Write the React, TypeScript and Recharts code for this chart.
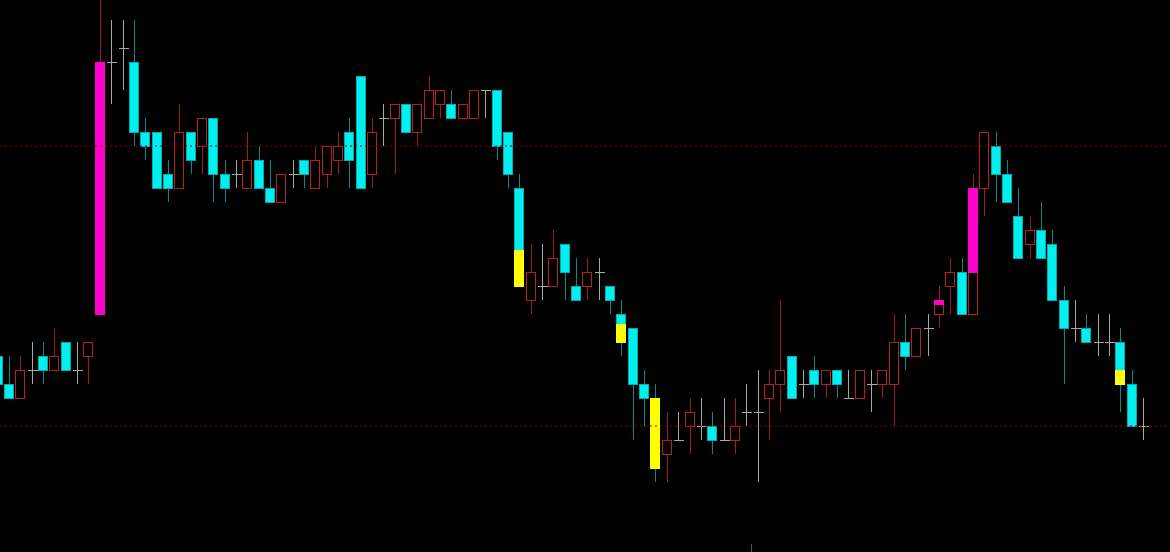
import { Bar, ComposedChart, ReferenceLine, XAxis, YAxis } from 'recharts'

// bar numbers, first one is cut off at the left edge
const bars = Array.from({ length: 102 }, (_, i) => i - 1)

const opens = [
  15, 13, 12, 14, 15, 14, 16, 14, 15, 18, 36, 37, 36, 31, 31, 28, 27, 31, 30, 32,
  28, 28, 27, 29, 27, 26, 28, 29, 27, 28, 29, 31, 35, 28, 32, 32, 33, 31, 32, 33,
  33, 32, 32, 34, 34, 31, 27, 19, 20, 20, 23, 20, 20, 21, 20, 18, 17, 13, 12, 8,
  9, 10, 10, 10, 9, 9, 11, 11, 12, 13, 15, 13, 14, 13, 14, 12, 12, 13, 13, 13,
  16, 15, 17, 18, 20, 21, 18, 27, 30, 28, 25, 23, 24, 23, 19, 17, 17, 16, 16, 16,
  13, 10,
]
const highs = [
  15, 15, 15, 16, 16, 17, 16, 16, 16, 40.4, 39, 39, 39, 32, 31, 29, 33, 31, 32, 32,
  29, 29, 31, 30, 29, 28, 29, 29, 30, 30, 31, 32, 35, 32, 33, 33, 33, 33, 35, 34,
  34, 33, 34, 34, 34, 31, 28, 23, 23, 24, 23, 22, 22, 22, 20, 19, 17, 14, 13, 11,
  11, 12, 12, 11, 12, 12, 13, 14, 14, 19, 15, 14, 15, 14, 14, 14, 14, 14, 14, 18,
  18, 17, 18, 20, 22, 22, 28, 31, 31, 29, 27, 25, 26, 24, 20, 19, 18, 18, 18, 17,
  14, 12,
]
const lows = [
  13, 12, 12, 13, 13, 14, 14, 13, 13, 18, 33, 34, 30, 29, 27, 26, 27, 28, 28, 26,
  26, 27, 27, 27, 26, 26, 27, 27, 27, 27, 28, 27, 27, 27, 30, 28, 31, 30, 32, 32,
  32, 32, 32, 32, 29, 27, 20, 18, 19, 20, 19, 19, 19, 19, 18, 15, 9, 10, 6, 6,
  9, 8, 9, 8, 9, 8, 10, 6, 9, 11, 12, 12, 12, 12, 12, 12, 12, 11, 12, 10,
  14, 15, 15, 17, 18, 18, 18, 25, 26, 26, 22, 22, 22, 19, 13, 16, 16, 15, 15, 11,
  10, 9,
]
const closes = [
  13, 12, 14, 14, 14, 15, 14, 14, 16, 36, 36, 37, 31, 30, 27, 27, 31, 29, 32, 28,
  27, 28, 29, 27, 26, 28, 28, 28, 29, 30, 30, 29, 27, 31, 32, 33, 31, 33, 34, 34,
  32, 33, 34, 34, 30, 28, 20, 21, 20, 22, 21, 19, 21, 21, 19, 16, 13, 12, 7, 9,
  9, 11, 10, 9, 9, 10, 11, 11, 13, 14, 12, 13, 13, 14, 13, 12, 14, 13, 14, 16,
  15, 17, 17, 19, 21, 18, 27, 31, 28, 26, 22, 24, 22, 19, 17, 17, 16, 16, 16, 13,
  10, 10,
]

// coloured fills drawn over part of some bodies
const markBars = [8, 45, 54, 57, 82, 85, 98]
const markFrom = [18, 20, 16, 7, 18.7, 21, 13]
const markTo = [36, 22.6, 17.3, 12, 19, 27, 14]
const markColors = ['#ff00cc', '#ffff00', '#ffff00', '#ffff00', '#ff00cc', '#ff00cc', '#ffff00']

const levels = [30, 10]
const sepBar = 65.5
const sepRange = [1, 1.57]

const data = bars.map((bar, i) => {
  const m = markBars.indexOf(bar)
  return {
    bar,
    open: opens[i],
    high: highs[i],
    low: lows[i],
    close: closes[i],
    range: [lows[i], highs[i]],
    markFrom: m >= 0 ? markFrom[m] : null,
    markTo: m >= 0 ? markTo[m] : null,
    markColor: m >= 0 ? markColors[m] : null,
  }
})

function Candle(props: any) {
  const { x, width, y, height, payload } = props
  if (x == null || y == null) return null
  const cx = Math.round(x + width / 2) + 0.5
  const top = Math.min(y, y + height)
  const span = payload.high - payload.low
  const k = span > 0 ? Math.abs(height) / span : 0
  const py = (v: number) => top + (payload.high - v) * k
  const { open, close } = payload

  if (open === close) {
    const yy = Math.round(py(open)) + 0.5
    return (
      <g shapeRendering="crispEdges">
        <line x1={cx} x2={cx} y1={py(payload.high)} y2={py(payload.low)} stroke="#a8a8a8" />
        <line x1={cx - 5} x2={cx + 5} y1={yy} y2={yy} stroke="#a8a8a8" />
      </g>
    )
  }

  const up = close > open
  const bTop = Math.round(py(Math.max(open, close))) + 0.5
  const bBot = Math.round(py(Math.min(open, close))) + 0.5
  const left = cx - 5
  return (
    <g shapeRendering="crispEdges">
      <line x1={cx} x2={cx} y1={py(payload.high)} y2={py(payload.low)} stroke={up ? '#9e1c1c' : '#008b8b'} />
      <rect
        x={left}
        y={bTop}
        width={9}
        height={bBot - bTop}
        fill={up ? '#000000' : '#00f0f0'}
        stroke={up ? '#b82020' : '#00b0b0'}
      />
      {payload.markColor && (
        <rect
          x={left}
          y={Math.round(py(payload.markTo)) + 0.5}
          width={9}
          height={Math.round(py(payload.markFrom)) - Math.round(py(payload.markTo))}
          fill={payload.markColor}
          stroke={payload.markColor}
        />
      )}
    </g>
  )
}

export default function App() {
  return (
    <div style={{ position: 'fixed', left: 0, top: 0, width: 1170, height: 552, background: '#000', overflow: 'hidden' }}>
      <ComposedChart width={1170} height={552} data={data} margin={{ top: 0, right: 0, left: 0, bottom: 0 }}>
        <XAxis dataKey="bar" type="number" domain={[-0.774, 102.4]} allowDataOverflow hide />
        <YAxis type="number" domain={[1, 40.4286]} hide />
        {levels.map((v) => (
          <ReferenceLine key={v} y={v} stroke="#8b0000" strokeDasharray="2 3" />
        ))}
        <ReferenceLine
          segment={[
            { x: sepBar, y: sepRange[0] },
            { x: sepBar, y: sepRange[1] },
          ]}
          stroke="#5a5a5a"
        />
        <Bar dataKey="range" barSize={10} shape={<Candle />} isAnimationActive={false} />
      </ComposedChart>
    </div>
  )
}
